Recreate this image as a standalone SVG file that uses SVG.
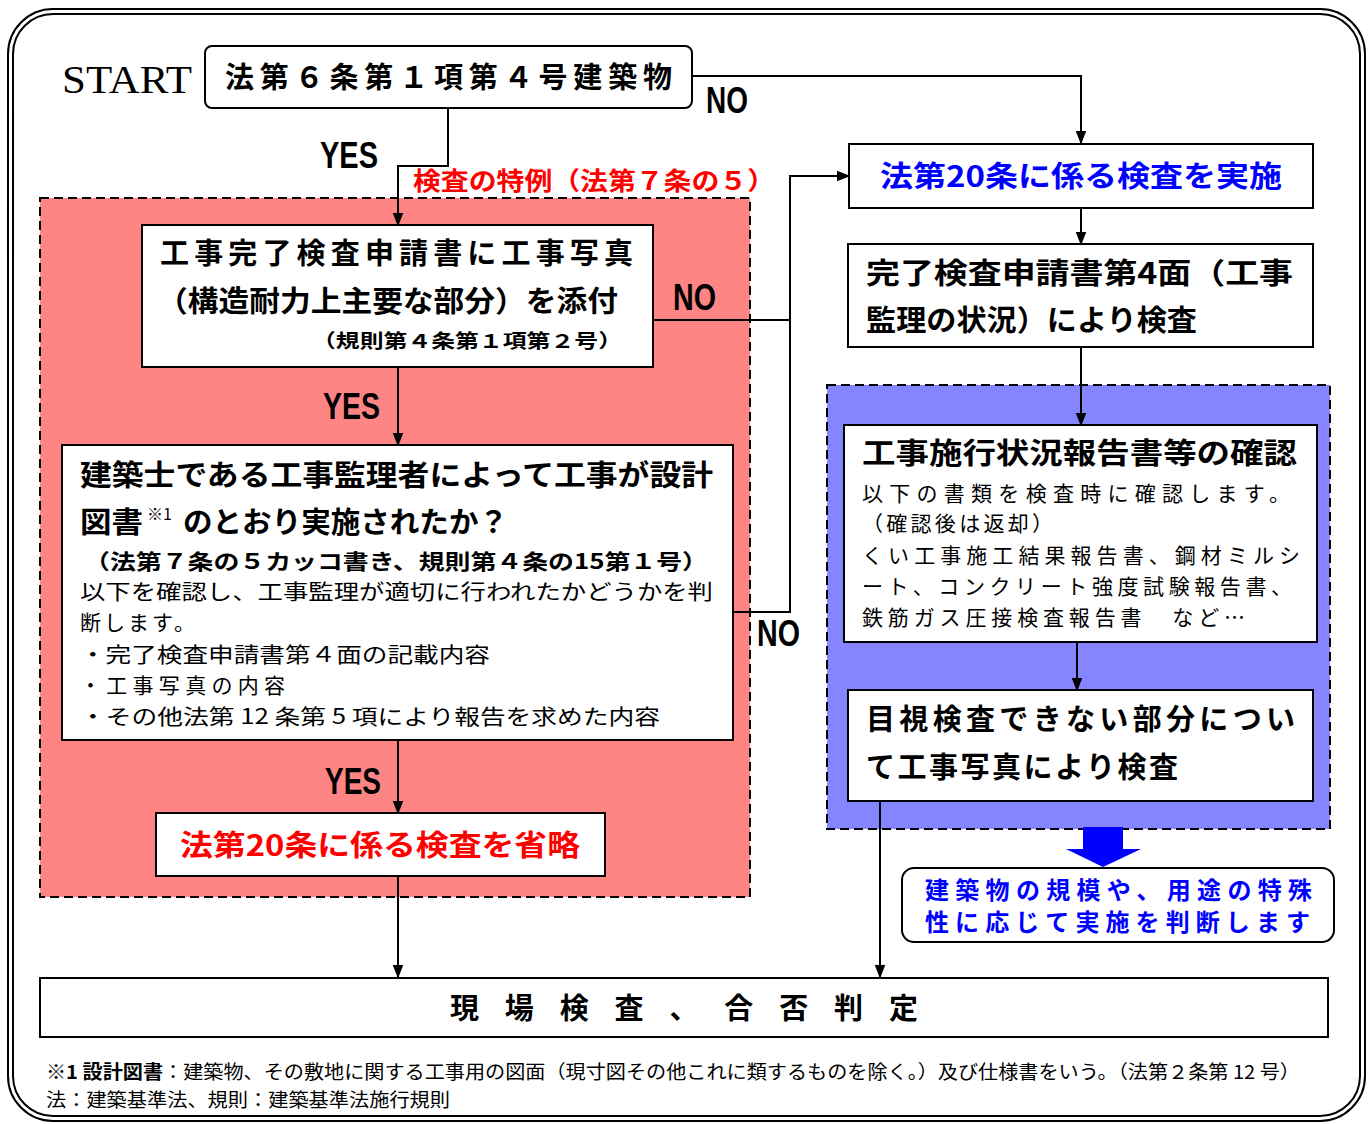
<svg xmlns="http://www.w3.org/2000/svg" width="1371" height="1124" viewBox="0 0 1371 1124">
<style>
.j{font-family:"Noto Sans CJK JP","Noto Sans CJK SC",sans-serif;}
.b{font-weight:700;}
.h{font-size:29px;}
.s{font-size:21px;}
.lab{font-family:"Liberation Sans",Arial,sans-serif;font-weight:700;font-size:36px;fill:#000;}
.box{fill:#fff;stroke:#000;stroke-width:2;}
.ln{fill:none;stroke:#000;stroke-width:2;}
.red{fill:#ff0000;}
.blue{fill:#0000ff;}
</style>
<defs>
<marker id="ar" markerWidth="14" markerHeight="18" refX="16" refY="7" orient="auto" markerUnits="userSpaceOnUse" viewBox="0 0 18 14">
<path d="M0,0 L18,7 L0,14 z" fill="#000"/>
</marker>
</defs>
<rect width="1371" height="1124" fill="#fff"/>
<g id="frame">
<rect x="8" y="9" width="1357" height="1112" rx="45" fill="none" stroke="#000" stroke-width="2"/>
<rect x="13" y="14" width="1347" height="1102" rx="40" fill="none" stroke="#000" stroke-width="2"/>
</g>
<g id="region-special">
<rect x="40" y="198" width="710" height="699" fill="#ff8585" stroke="#000" stroke-width="2" stroke-dasharray="9,5"/>
</g>
<g id="region-check">
<rect x="827" y="385" width="503" height="444" fill="#8585ff" stroke="#000" stroke-width="2" stroke-dasharray="9,5"/>
</g>
<g id="connectors">
<path class="ln" d="M692,76 H1081 V143" marker-end="url(#ar)"/>
<path class="ln" d="M448,108 V166 H398 V225" marker-end="url(#ar)"/>
<path class="ln" d="M398,367 V445" marker-end="url(#ar)"/>
<path class="ln" d="M398,740 V813" marker-end="url(#ar)"/>
<path class="ln" d="M398,876 V977" marker-end="url(#ar)"/>
<path class="ln" d="M653,320 H790"/>
<path class="ln" d="M733,612 H790 V176 H849" marker-end="url(#ar)"/>
<path class="ln" d="M1081,208 V244" marker-end="url(#ar)"/>
<path class="ln" d="M1081,347 V425" marker-end="url(#ar)"/>
<path class="ln" d="M1077,642 V690" marker-end="url(#ar)"/>
<path class="ln" d="M880,801 V977" marker-end="url(#ar)"/>
<path d="M1083,827 H1123 V849 H1141 L1103,867 L1066,849 H1083 z" fill="#0000ff"/>
<text class="lab" x="706" y="113" textLength="42" lengthAdjust="spacingAndGlyphs">NO</text>
<text class="lab" x="320" y="168" textLength="58" lengthAdjust="spacingAndGlyphs">YES</text>
<text class="lab" x="673" y="310" textLength="43" lengthAdjust="spacingAndGlyphs">NO</text>
<text class="lab" x="323" y="419" textLength="57" lengthAdjust="spacingAndGlyphs">YES</text>
<text class="lab" x="757" y="646" textLength="43" lengthAdjust="spacingAndGlyphs">NO</text>
<text class="lab" x="325" y="794" textLength="56" lengthAdjust="spacingAndGlyphs">YES</text>
<text class="j b red" x="413" y="190" font-size="25" textLength="362" lengthAdjust="spacingAndGlyphs">検査の特例（法第７条の５）</text>
</g>
<g id="start">
<text x="62" y="93" font-family="Liberation Serif,'Times New Roman',serif" font-size="40" textLength="130" lengthAdjust="spacingAndGlyphs">START</text>
<rect class="box" x="205" y="46" width="487" height="62" rx="7"/>
<text class="j b h" x="225" y="88" textLength="447" lengthAdjust="spacing">法第６条第１項第４号建築物</text>
</g>
<g id="node-photo">
<rect class="box" x="142" y="225" width="511" height="142"/>
<text class="j b h" x="160" y="264" textLength="473" lengthAdjust="spacing">工事完了検査申請書に工事写真</text>
<text class="j b h" x="157" y="312" textLength="461" lengthAdjust="spacingAndGlyphs">（構造耐力上主要な部分）を添付</text>
<text class="j b" x="312" y="348" font-size="19" textLength="310" lengthAdjust="spacingAndGlyphs">（規則第４条第１項第２号）</text>
</g>
<g id="node-supervisor">
<rect class="box" x="62" y="445" width="671" height="295"/>
<text class="j b h" x="80" y="486" textLength="633" lengthAdjust="spacingAndGlyphs">建築士である工事監理者によって工事が設計</text>
<text class="j b h" x="80" y="533" textLength="63" lengthAdjust="spacingAndGlyphs">図書</text>
<text class="j" x="147" y="520" font-size="16">※1</text>
<text class="j b h" x="183" y="533" textLength="325" lengthAdjust="spacingAndGlyphs">のとおり実施されたか？</text>
<text class="j b" x="84" y="569" font-size="21" textLength="624" lengthAdjust="spacingAndGlyphs">（法第７条の５カッコ書き、規則第４条の15第１号）</text>
<text class="j s" x="80" y="599" textLength="633" lengthAdjust="spacingAndGlyphs">以下を確認し、工事監理が適切に行われたかどうかを判</text>
<text class="j s" x="80" y="630" textLength="115" lengthAdjust="spacing">断します。</text>
<text class="j s" x="80" y="662" textLength="410" lengthAdjust="spacingAndGlyphs">・完了検査申請書第４面の記載内容</text>
<text class="j s" x="80" y="693" textLength="205" lengthAdjust="spacing">・工事写真の内容</text>
<text class="j s" x="80" y="724" textLength="580" lengthAdjust="spacingAndGlyphs">・その他法第 12 条第 5 項により報告を求めた内容</text>
</g>
<g id="node-omit">
<rect class="box" x="156" y="813" width="449" height="63"/>
<text class="j b h red" x="180" y="856" textLength="400" lengthAdjust="spacingAndGlyphs">法第20条に係る検査を省略</text>
</g>
<g id="node-do">
<rect class="box" x="849" y="144" width="464" height="64"/>
<text class="j b h blue" x="880" y="187" textLength="402" lengthAdjust="spacingAndGlyphs">法第20条に係る検査を実施</text>
</g>
<g id="node-form4">
<rect class="box" x="848" y="244" width="465" height="103"/>
<text class="j b h" x="866" y="284" textLength="427" lengthAdjust="spacingAndGlyphs">完了検査申請書第4面（工事</text>
<text class="j b h" x="866" y="331" textLength="331" lengthAdjust="spacingAndGlyphs">監理の状況）により検査</text>
</g>
<g id="node-report">
<rect class="box" x="844" y="425" width="473" height="217"/>
<text class="j b h" x="862" y="464" textLength="435" lengthAdjust="spacingAndGlyphs">工事施行状況報告書等の確認</text>
<text class="j s" x="862" y="501" textLength="428" lengthAdjust="spacing">以下の書類を検査時に確認します。</text>
<text class="j s" x="862" y="531" textLength="191" lengthAdjust="spacing">（確認後は返却）</text>
<text class="j s" x="862" y="563" textLength="438" lengthAdjust="spacing">くい工事施工結果報告書、鋼材ミルシ</text>
<text class="j s" x="862" y="594" textLength="430" lengthAdjust="spacing">ート、コンクリート強度試験報告書、</text>
<text class="j s" x="862" y="625" textLength="383" lengthAdjust="spacing">鉄筋ガス圧接検査報告書　など…</text>
</g>
<g id="node-visual">
<rect class="box" x="848" y="690" width="465" height="111"/>
<text class="j b h" x="866" y="730" textLength="429" lengthAdjust="spacing">目視検査できない部分につい</text>
<text class="j b h" x="866" y="778" textLength="312" lengthAdjust="spacing">て工事写真により検査</text>
</g>
<g id="node-scale">
<rect class="box" x="902" y="868" width="432" height="74" rx="12"/>
<text class="j b blue" x="925" y="899" font-size="24" textLength="387" lengthAdjust="spacing">建築物の規模や、用途の特殊</text>
<text class="j b blue" x="925" y="931" font-size="24" textLength="385" lengthAdjust="spacing">性に応じて実施を判断します</text>
</g>
<g id="node-final">
<rect class="box" x="40" y="978" width="1288" height="59"/>
<text class="j b h" x="450" y="1019" textLength="468" lengthAdjust="spacing">現場検査、合否判定</text>
</g>
<g id="footnotes">
<text class="j" x="46" y="1079" font-size="19" textLength="1254" lengthAdjust="spacingAndGlyphs"><tspan font-weight="700">※1 設計図書</tspan>：建築物、その敷地に関する工事用の図面（現寸図その他これに類するものを除く。）及び仕様書をいう。（法第２条第 12 号）</text>
<text class="j" x="46" y="1107" font-size="19" textLength="404" lengthAdjust="spacingAndGlyphs">法：建築基準法、規則：建築基準法施行規則</text>
</g>
</svg>
